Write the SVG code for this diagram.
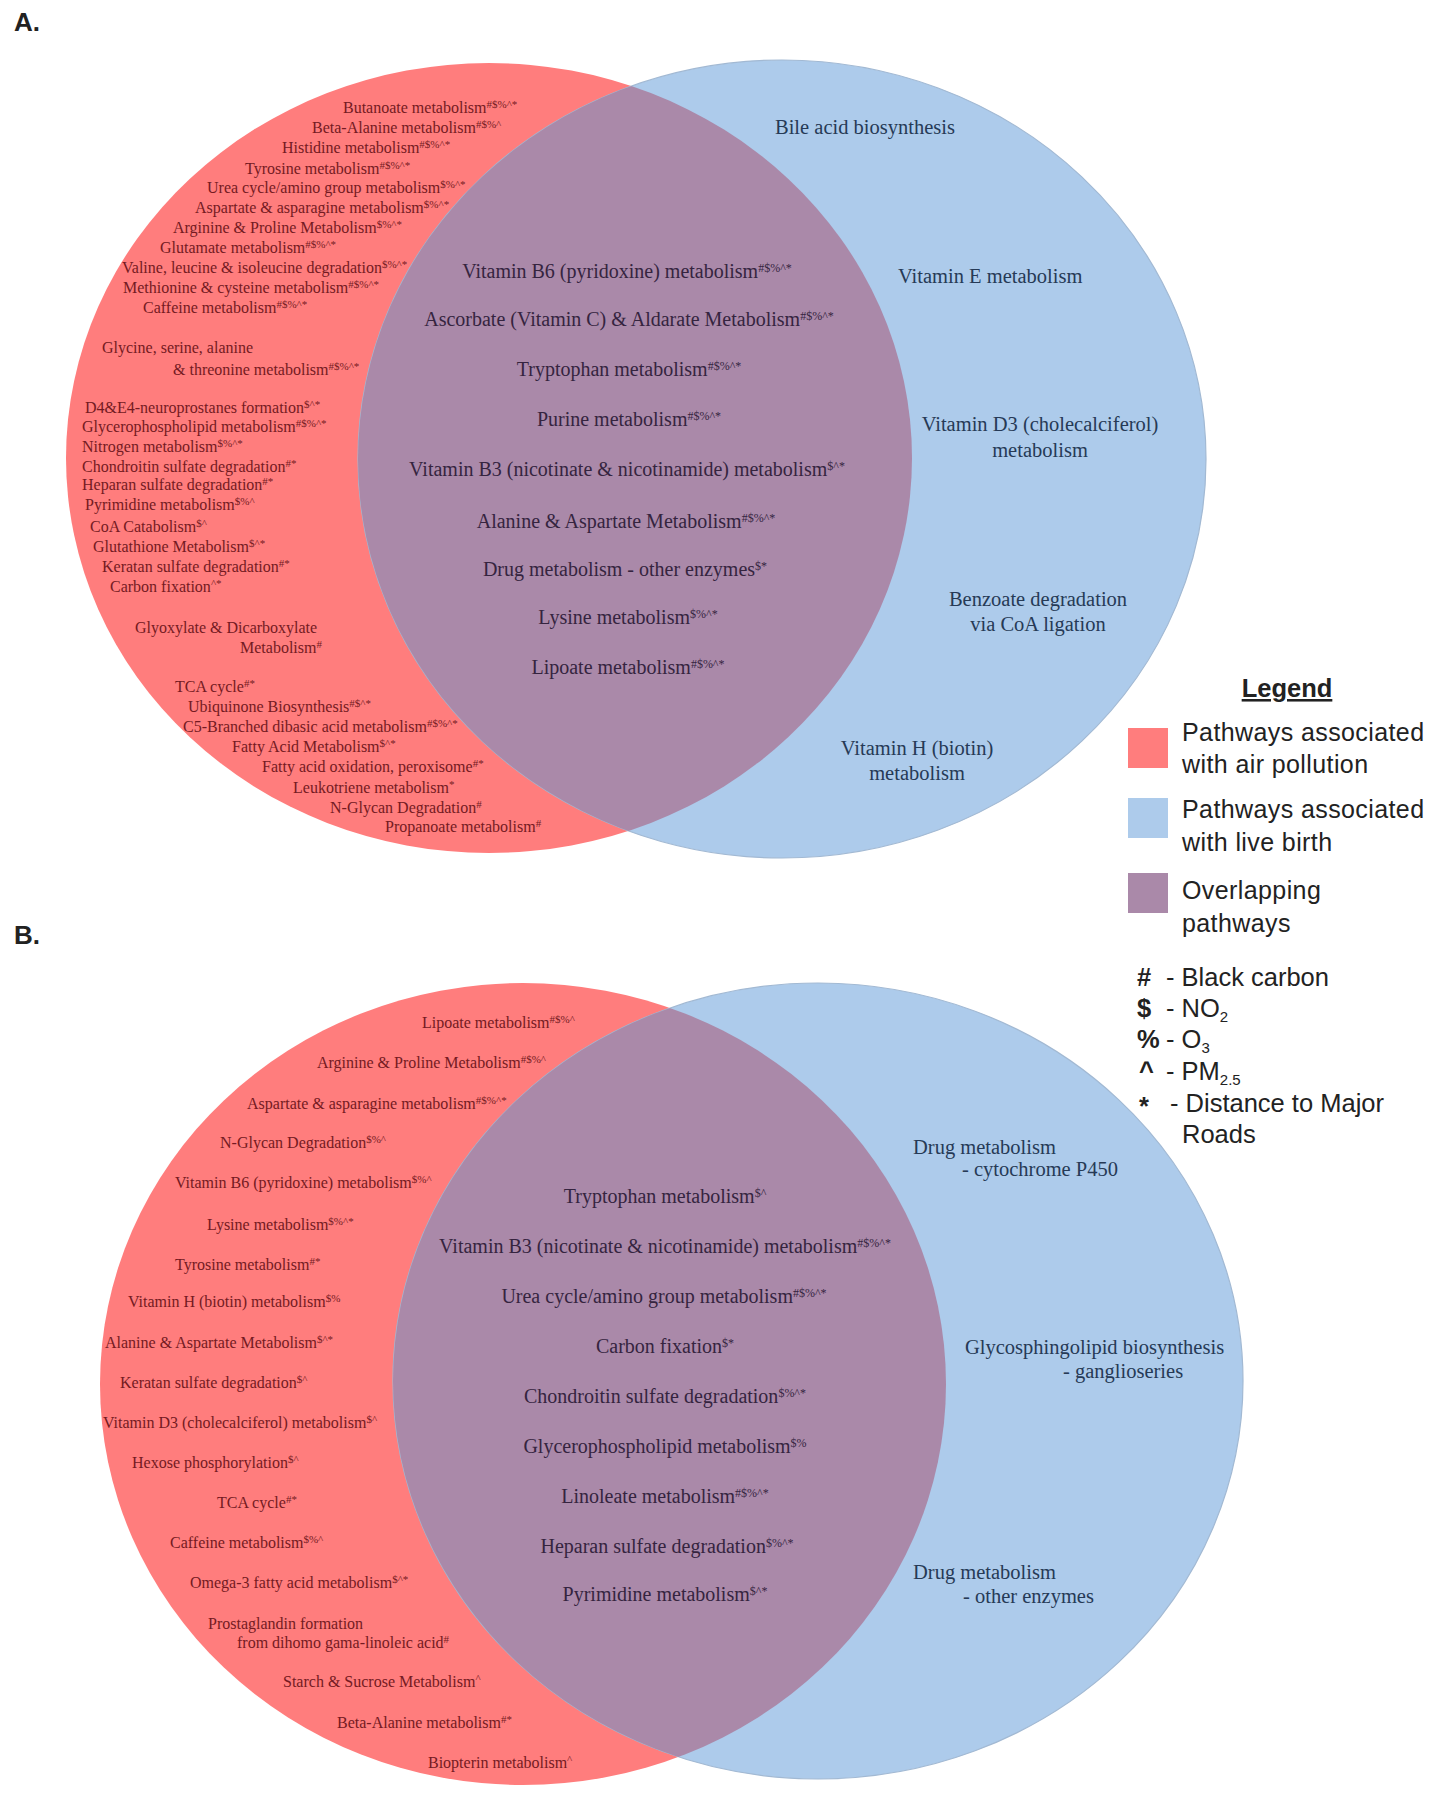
<svg xmlns="http://www.w3.org/2000/svg" width="1440" height="1800" viewBox="0 0 1440 1800">
<style>
.lbl{font-family:"Liberation Sans",Arial,sans-serif;font-weight:bold;font-size:26px;fill:#222}
.r{font-family:"Liberation Serif","Times New Roman",serif;font-size:16px;fill:#741a22}
.p{font-family:"Liberation Serif","Times New Roman",serif;font-size:20px;fill:#35243f;text-anchor:middle}
.b{font-family:"Liberation Serif","Times New Roman",serif;font-size:20.5px;fill:#263a56}
.bm{text-anchor:middle}
.r .s{font-size:11px}
.p .s{font-size:12px}
.lg{font-family:"Liberation Sans",Arial,sans-serif;font-size:25.5px;fill:#222}
.lp{font-size:25px;letter-spacing:0.4px}
.sym{font-weight:bold}
.sub{font-size:15px}
</style>
<defs>
<clipPath id="clipA"><ellipse cx="489" cy="458" rx="423" ry="395"/></clipPath>
<clipPath id="clipB"><ellipse cx="523" cy="1384" rx="423" ry="401"/></clipPath>
</defs>
<rect width="1440" height="1800" fill="#ffffff"/>
<text class="lbl" x="14" y="31">A.</text>
<text class="lbl" x="14" y="944">B.</text>

<g id="venn-A">
<ellipse id="A-air" cx="489" cy="458" rx="423" ry="395" fill="#ff7d7d"/>
<ellipse id="A-birth" cx="782" cy="459" rx="424" ry="399" fill="#adcbeb" stroke="#a2b9d3" stroke-width="1.2"/>
<ellipse id="A-overlap" cx="782" cy="459" rx="424" ry="399" fill="#aa89a9" clip-path="url(#clipA)"/>
</g>

<g id="A-air-texts">
<text class="r" x="343" y="113">Butanoate metabolism<tspan class="s" dy="-5">#$%^*</tspan></text>
<text class="r" x="312" y="133">Beta-Alanine metabolism<tspan class="s" dy="-5">#$%^</tspan></text>
<text class="r" x="282" y="153">Histidine metabolism<tspan class="s" dy="-5">#$%^*</tspan></text>
<text class="r" x="245" y="174">Tyrosine metabolism<tspan class="s" dy="-5">#$%^*</tspan></text>
<text class="r" x="207" y="193">Urea cycle/amino group metabolism<tspan class="s" dy="-5">$%^*</tspan></text>
<text class="r" x="195" y="213">Aspartate &amp; asparagine metabolism<tspan class="s" dy="-5">$%^*</tspan></text>
<text class="r" x="173" y="233">Arginine &amp; Proline Metabolism<tspan class="s" dy="-5">$%^*</tspan></text>
<text class="r" x="160" y="253">Glutamate metabolism<tspan class="s" dy="-5">#$%^*</tspan></text>
<text class="r" x="122" y="273">Valine, leucine &amp; isoleucine degradation<tspan class="s" dy="-5">$%^*</tspan></text>
<text class="r" x="123" y="293">Methionine &amp; cysteine metabolism<tspan class="s" dy="-5">#$%^*</tspan></text>
<text class="r" x="143" y="313">Caffeine metabolism<tspan class="s" dy="-5">#$%^*</tspan></text>
<text class="r" x="102" y="353">Glycine, serine, alanine</text>
<text class="r" x="173" y="375">&amp; threonine metabolism<tspan class="s" dy="-5">#$%^*</tspan></text>
<text class="r" x="85" y="413">D4&amp;E4-neuroprostanes formation<tspan class="s" dy="-5">$^*</tspan></text>
<text class="r" x="82" y="432">Glycerophospholipid metabolism<tspan class="s" dy="-5">#$%^*</tspan></text>
<text class="r" x="82" y="452">Nitrogen metabolism<tspan class="s" dy="-5">$%^*</tspan></text>
<text class="r" x="82" y="472">Chondroitin sulfate degradation<tspan class="s" dy="-5">#*</tspan></text>
<text class="r" x="82" y="490">Heparan sulfate degradation<tspan class="s" dy="-5">#*</tspan></text>
<text class="r" x="85" y="510">Pyrimidine metabolism<tspan class="s" dy="-5">$%^</tspan></text>
<text class="r" x="90" y="532">CoA Catabolism<tspan class="s" dy="-5">$^</tspan></text>
<text class="r" x="93" y="552">Glutathione Metabolism<tspan class="s" dy="-5">$^*</tspan></text>
<text class="r" x="102" y="572">Keratan sulfate degradation<tspan class="s" dy="-5">#*</tspan></text>
<text class="r" x="110" y="592">Carbon fixation<tspan class="s" dy="-5">^*</tspan></text>
<text class="r" x="135" y="633">Glyoxylate &amp; Dicarboxylate</text>
<text class="r" x="240" y="653">Metabolism<tspan class="s" dy="-5">#</tspan></text>
<text class="r" x="175" y="692">TCA cycle<tspan class="s" dy="-5">#*</tspan></text>
<text class="r" x="188" y="712">Ubiquinone Biosynthesis<tspan class="s" dy="-5">#$^*</tspan></text>
<text class="r" x="183" y="732">C5-Branched dibasic acid metabolism<tspan class="s" dy="-5">#$%^*</tspan></text>
<text class="r" x="232" y="752">Fatty Acid Metabolism<tspan class="s" dy="-5">$^*</tspan></text>
<text class="r" x="262" y="772">Fatty acid oxidation, peroxisome<tspan class="s" dy="-5">#*</tspan></text>
<text class="r" x="293" y="793">Leukotriene metabolism<tspan class="s" dy="-5">*</tspan></text>
<text class="r" x="330" y="813">N-Glycan Degradation<tspan class="s" dy="-5">#</tspan></text>
<text class="r" x="385" y="832">Propanoate metabolism<tspan class="s" dy="-5">#</tspan></text>
</g>

<g id="A-overlap-texts">
<text class="p" x="627" y="278">Vitamin B6 (pyridoxine) metabolism<tspan class="s" dy="-6">#$%^*</tspan></text>
<text class="p" x="629" y="326">Ascorbate (Vitamin C) &amp; Aldarate Metabolism<tspan class="s" dy="-6">#$%^*</tspan></text>
<text class="p" x="629" y="376">Tryptophan metabolism<tspan class="s" dy="-6">#$%^*</tspan></text>
<text class="p" x="629" y="426">Purine metabolism<tspan class="s" dy="-6">#$%^*</tspan></text>
<text class="p" x="627" y="476">Vitamin B3 (nicotinate &amp; nicotinamide) metabolism<tspan class="s" dy="-6">$^*</tspan></text>
<text class="p" x="626" y="528">Alanine &amp; Aspartate Metabolism<tspan class="s" dy="-6">#$%^*</tspan></text>
<text class="p" x="625" y="576">Drug metabolism - other enzymes<tspan class="s" dy="-6">$*</tspan></text>
<text class="p" x="628" y="624">Lysine metabolism<tspan class="s" dy="-6">$%^*</tspan></text>
<text class="p" x="628" y="674">Lipoate metabolism<tspan class="s" dy="-6">#$%^*</tspan></text>
</g>

<g id="A-birth-texts">
<text class="b" x="775" y="134">Bile acid biosynthesis</text>
<text class="b" x="898" y="283">Vitamin E metabolism</text>
<text class="b bm" x="1040" y="431">Vitamin D3 (cholecalciferol)</text>
<text class="b bm" x="1040" y="457">metabolism</text>
<text class="b bm" x="1038" y="606">Benzoate degradation</text>
<text class="b bm" x="1038" y="631">via CoA ligation</text>
<text class="b bm" x="917" y="755">Vitamin H (biotin)</text>
<text class="b bm" x="917" y="780">metabolism</text>
</g>

<g id="venn-B">
<ellipse id="B-air" cx="523" cy="1384" rx="423" ry="401" fill="#ff7d7d"/>
<ellipse id="B-birth" cx="818" cy="1381" rx="425" ry="398" fill="#adcbeb" stroke="#a2b9d3" stroke-width="1.2"/>
<ellipse id="B-overlap" cx="818" cy="1381" rx="425" ry="398" fill="#aa89a9" clip-path="url(#clipB)"/>
</g>

<g id="B-air-texts">
<text class="r" x="422" y="1028">Lipoate metabolism<tspan class="s" dy="-5">#$%^</tspan></text>
<text class="r" x="317" y="1068">Arginine &amp; Proline Metabolism<tspan class="s" dy="-5">#$%^</tspan></text>
<text class="r" x="247" y="1109">Aspartate &amp; asparagine metabolism<tspan class="s" dy="-5">#$%^*</tspan></text>
<text class="r" x="220" y="1148">N-Glycan Degradation<tspan class="s" dy="-5">$%^</tspan></text>
<text class="r" x="175" y="1188">Vitamin B6 (pyridoxine) metabolism<tspan class="s" dy="-5">$%^</tspan></text>
<text class="r" x="207" y="1230">Lysine metabolism<tspan class="s" dy="-5">$%^*</tspan></text>
<text class="r" x="175" y="1270">Tyrosine metabolism<tspan class="s" dy="-5">#*</tspan></text>
<text class="r" x="128" y="1307">Vitamin H (biotin) metabolism<tspan class="s" dy="-5">$%</tspan></text>
<text class="r" x="105" y="1348">Alanine &amp; Aspartate Metabolism<tspan class="s" dy="-5">$^*</tspan></text>
<text class="r" x="120" y="1388">Keratan sulfate degradation<tspan class="s" dy="-5">$^</tspan></text>
<text class="r" x="103" y="1428">Vitamin D3 (cholecalciferol) metabolism<tspan class="s" dy="-5">$^</tspan></text>
<text class="r" x="132" y="1468">Hexose phosphorylation<tspan class="s" dy="-5">$^</tspan></text>
<text class="r" x="217" y="1508">TCA cycle<tspan class="s" dy="-5">#*</tspan></text>
<text class="r" x="170" y="1548">Caffeine metabolism<tspan class="s" dy="-5">$%^</tspan></text>
<text class="r" x="190" y="1588">Omega-3 fatty acid metabolism<tspan class="s" dy="-5">$^*</tspan></text>
<text class="r" x="208" y="1629">Prostaglandin formation</text>
<text class="r" x="237" y="1648">from dihomo gama-linoleic acid<tspan class="s" dy="-5">#</tspan></text>
<text class="r" x="283" y="1687">Starch &amp; Sucrose Metabolism<tspan class="s" dy="-5">^</tspan></text>
<text class="r" x="337" y="1728">Beta-Alanine metabolism<tspan class="s" dy="-5">#*</tspan></text>
<text class="r" x="428" y="1768">Biopterin metabolism<tspan class="s" dy="-5">^</tspan></text>
</g>

<g id="B-overlap-texts">
<text class="p" x="665" y="1203">Tryptophan metabolism<tspan class="s" dy="-6">$^</tspan></text>
<text class="p" x="665" y="1253">Vitamin B3 (nicotinate &amp; nicotinamide) metabolism<tspan class="s" dy="-6">#$%^*</tspan></text>
<text class="p" x="664" y="1303">Urea cycle/amino group metabolism<tspan class="s" dy="-6">#$%^*</tspan></text>
<text class="p" x="665" y="1353">Carbon fixation<tspan class="s" dy="-6">$*</tspan></text>
<text class="p" x="665" y="1403">Chondroitin sulfate degradation<tspan class="s" dy="-6">$%^*</tspan></text>
<text class="p" x="665" y="1453">Glycerophospholipid metabolism<tspan class="s" dy="-6">$%</tspan></text>
<text class="p" x="665" y="1503">Linoleate metabolism<tspan class="s" dy="-6">#$%^*</tspan></text>
<text class="p" x="667" y="1553">Heparan sulfate degradation<tspan class="s" dy="-6">$%^*</tspan></text>
<text class="p" x="665" y="1601">Pyrimidine metabolism<tspan class="s" dy="-6">$^*</tspan></text>
</g>

<g id="B-birth-texts">
<text class="b" x="913" y="1154">Drug metabolism</text>
<text class="b" x="962" y="1176">- cytochrome P450</text>
<text class="b" x="965" y="1354">Glycosphingolipid biosynthesis</text>
<text class="b" x="1063" y="1378">- ganglioseries</text>
<text class="b" x="913" y="1579">Drug metabolism</text>
<text class="b" x="963" y="1603">- other enzymes</text>
</g>

<g id="connectors"></g>

<g id="legend">
<text class="lg" x="1287" y="697" text-anchor="middle" font-weight="bold" text-decoration="underline">Legend</text>
<g id="legend-air">
<rect x="1128" y="728" width="40" height="40" fill="#ff7d7d"/>
<text class="lg lp" x="1182" y="741">Pathways associated</text>
<text class="lg lp" x="1182" y="773">with air pollution</text>
</g>
<g id="legend-birth">
<rect x="1128" y="798" width="40" height="40" fill="#adcbeb"/>
<text class="lg lp" x="1182" y="818">Pathways associated</text>
<text class="lg lp" x="1182" y="851">with live birth</text>
</g>
<g id="legend-overlap">
<rect x="1128" y="873" width="40" height="40" fill="#aa89a9"/>
<text class="lg lp" x="1182" y="899">Overlapping</text>
<text class="lg lp" x="1182" y="932">pathways</text>
</g>
<g id="legend-key">
<text class="lg sym" x="1137" y="986">#</text><text class="lg" x="1166" y="986">- Black carbon</text>
<text class="lg sym" x="1137" y="1017">$</text><text class="lg" x="1166" y="1017">- NO<tspan class="sub" dy="5">2</tspan></text>
<text class="lg sym" x="1137" y="1048">%</text><text class="lg" x="1166" y="1048">- O<tspan class="sub" dy="5">3</tspan></text>
<text class="lg sym" x="1139" y="1080">^</text><text class="lg" x="1166" y="1080">- PM<tspan class="sub" dy="5">2.5</tspan></text>
<text class="lg sym" x="1139" y="1115">*</text><text class="lg" x="1170" y="1112">- Distance to Major</text>
<text class="lg" x="1182" y="1143">Roads</text>
</g>
</g>
</svg>
